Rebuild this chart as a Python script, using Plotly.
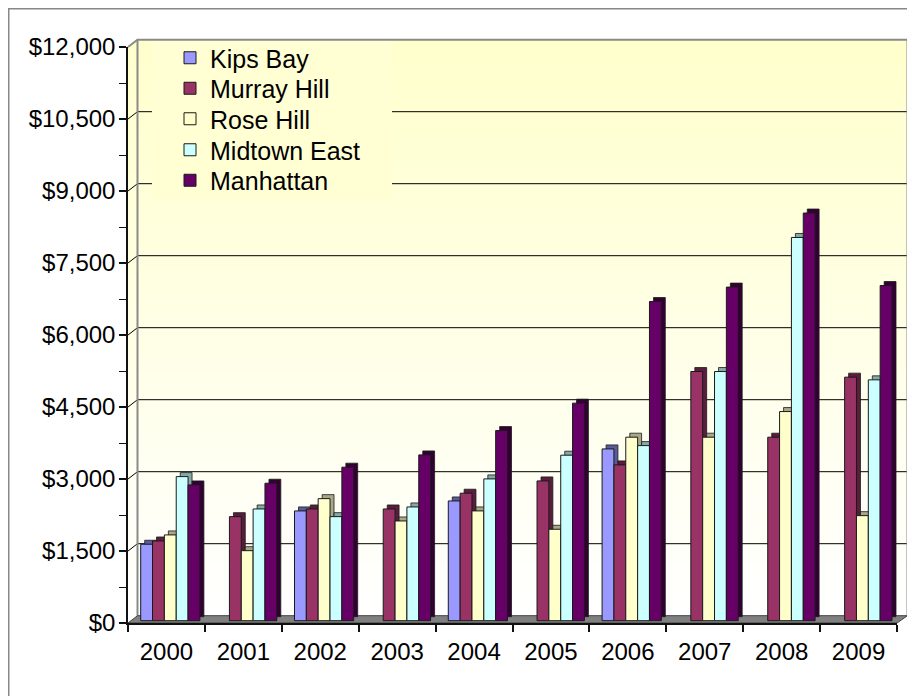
import plotly.graph_objects as go

# ---------------- data ----------------
years = ["2000", "2001", "2002", "2003", "2004", "2005", "2006", "2007", "2008", "2009"]
kips_bay = [1593, None, 2287, None, 2495, None, 3579, None, None, None]
murray_hill = [1661, 2168, 2328, 2328, 2656, 2912, 3246, 5191, 3823, 5074]
rose_hill = [1787, 1459, 2543, 2078, 2287, 1905, 3823, 3823, 4357, 2189]
midtown_east = [3002, 2328, 2168, 2370, 2954, 3448, 3648, 5191, 7984, 5018]
manhattan = [2829, 2864, 3198, 3454, 3961, 4532, 6650, 6950, 8493, 6983]
y_ticks = [0, 1500, 3000, 4500, 6000, 7500, 9000, 10500, 12000]

series = [
    ("Kips Bay", kips_bay, "#9999FF", "#5B5B99"),
    ("Murray Hill", murray_hill, "#993366", "#5A1E3C"),
    ("Rose Hill", rose_hill, "#FFFFCC", "#A8A887"),
    ("Midtown East", midtown_east, "#CCFFFF", "#86A8A8"),
    ("Manhattan", manhattan, "#660066", "#330033"),
]

# ---------------- geometry (screen pixels) ----------------
W, H = 915, 696
BODY = 8                                    # page body margin
PL, PR, PT, PB = 128, 897, 47, 623          # plot area (front plane), screen px
YMAX = 12000
PX_PER_UNIT = (PB - PT) / YMAX
DX, DY = 9.5, 7.3                           # depth of the 3D box
CAT_W = (PR - PL) / len(years)

def fx(x):
    return (x - PL) / (PR - PL)

def fy(y):
    return (PB - y) / (PB - PT)

def path(points, close=False):
    s = "M" + " L".join(f"{fx(x):.5f},{fy(y):.5f}" for x, y in points)
    return s + (" Z" if close else "")

shapes = []

# outer chart border
shapes.append(dict(type="rect", xref="paper", yref="paper",
                   x0=fx(BODY + 0.5), x1=fx(960), y0=fy(BODY + 0.5), y1=fy(760),
                   line=dict(color="#888888", width=2), fillcolor="rgba(0,0,0,0)", layer="below"))

# back wall + side wall gradient (light yellow at top -> white at bottom)
wall_top, wall_bot = PT - DY, PB - DY
n = 90
for i in range(n):
    y0 = wall_top + (wall_bot - wall_top) * i / n
    y1 = wall_top + (wall_bot - wall_top) * (i + 1) / n + 0.6
    t = (i + 0.5) / n
    b = int(round(204 + (255 - 204) * t))
    col = f"rgb(255,255,{b})"
    shapes.append(dict(type="path", xref="paper", yref="paper",
                       path=path([(PL, y0 + DY), (PL + DX, y0), (PR + DX + 1, y0),
                                  (PR + DX + 1, y1), (PL + DX, y1), (PL, y1 + DY)], close=True),
                       fillcolor=col, line=dict(width=0), layer="below"))

# gridlines on back wall, with slanted segment on side wall
for v in y_ticks[1:-1]:
    yf = PB - v * PX_PER_UNIT
    yb = yf - DY
    shapes.append(dict(type="path", xref="paper", yref="paper",
                       path=path([(PL, yf), (PL + DX, yb), (PR + DX + 1, yb)]),
                       line=dict(color="#000000", width=1), layer="below"))

# legend background patch (interrupts gridlines)
shapes.append(dict(type="rect", xref="paper", yref="paper",
                   x0=fx(152), x1=fx(392), y0=fy(41), y1=fy(199),
                   fillcolor="#FFFFD3", line=dict(width=0), layer="below"))

# wall edges
shapes.append(dict(type="path", xref="paper", yref="paper",
                   path=path([(PL, PT), (PL + DX, wall_top), (PR + DX + 1, wall_top), (PR + DX + 1, wall_bot)]),
                   line=dict(color="#8A8A8A", width=2), layer="below"))
shapes.append(dict(type="path", xref="paper", yref="paper",
                   path=path([(PL + DX, wall_top), (PL + DX, wall_bot)]),
                   line=dict(color="#8A8A8A", width=2), layer="below"))

# floor
shapes.append(dict(type="path", xref="paper", yref="paper",
                   path=path([(PL, PB), (PL + DX, wall_bot), (PR + DX + 1, wall_bot), (PR, PB)], close=True),
                   fillcolor="#808080", line=dict(color="#404040", width=1), layer="below"))

# ---------------- bars ----------------
bar_w = 0.154
first_off = -0.335
depth_dx = 4 / CAT_W
depth_dy = 4 / PX_PER_UNIT
FLOOR_LIFT = 2.3 / PX_PER_UNIT

FONT = "Liberation Sans, Arial, sans-serif"
legend_ids = ["legend", "legend2", "legend3", "legend4", "legend5"]
legend_y = [58, 88.5, 119, 150, 180.5]     # screen px of each entry centre

fig = go.Figure()
# depth (side/top faces) first
for i, (name, vals, col, dark) in enumerate(series):
    fig.add_trace(go.Bar(
        x=years, y=vals, base=FLOOR_LIFT + depth_dy, name=name + " depth",
        offset=first_off + bar_w * i + depth_dx, width=bar_w,
        marker=dict(color=dark, line=dict(color="#1a1a1a", width=0.8)),
        showlegend=False, hoverinfo="skip"))
# front faces
for i, (name, vals, col, dark) in enumerate(series):
    fig.add_trace(go.Bar(
        x=years, y=vals, base=FLOOR_LIFT, name=name, legend=legend_ids[i],
        offset=first_off + bar_w * i, width=bar_w,
        marker=dict(color=col, line=dict(color="#1a1a1a", width=1))))

legend_common = dict(xanchor="left", yanchor="middle", bgcolor="rgba(0,0,0,0)", borderwidth=0,
                     font=dict(family=FONT, size=25, color="black"), itemclick=False)
layout_legends = {}
for lid, ly in zip(legend_ids, legend_y):
    layout_legends[lid] = dict(x=fx(170), y=fy(ly), **legend_common)

fig.update_layout(
    width=W, height=H,
    margin=dict(l=PL - BODY, r=W - (PR - BODY), t=PT - BODY, b=H - (PB - BODY), pad=0),
    paper_bgcolor="white", plot_bgcolor="rgba(0,0,0,0)",
    barmode="overlay",
    font=dict(family=FONT, size=24, color="black"),
    shapes=shapes,
    showlegend=True,
    xaxis=dict(type="category", categoryorder="array", categoryarray=years,
               range=[-0.5, len(years) - 0.5], showgrid=False, zeroline=False,
               showline=True, linecolor="#111111", linewidth=1.5,
               ticks="outside", tickson="boundaries", ticklen=7, tickwidth=1.5, tickcolor="#111111",
               ticklabelstandoff=6, tickfont=dict(size=24)),
    yaxis=dict(range=[0, YMAX], tickvals=y_ticks, tickformat="$,.0f",
               showgrid=False, zeroline=False,
               showline=True, linecolor="#111111", linewidth=1.5,
               ticks="outside", ticklen=7, tickwidth=1.5, tickcolor="#111111",
               minor=dict(dtick=750, tick0=0, ticks="outside", ticklen=7, tickwidth=1, tickcolor="#111111", showgrid=False),
               ticklabelstandoff=-1, tickfont=dict(size=24)),
    **layout_legends,
)

fig.write_html("out.html")
